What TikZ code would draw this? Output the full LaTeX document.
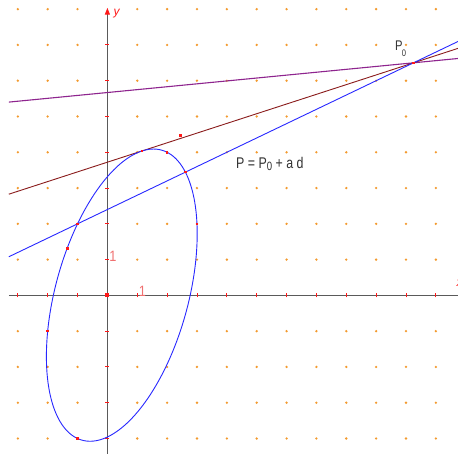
\documentclass[tikz,border=0pt]{standalone}
\usepackage{fontspec}
\setmainfont{Liberation Sans}
\usetikzlibrary{arrows.meta}
\definecolor{gridorange}{HTML}{F39A2E}
\definecolor{axisgray}{HTML}{5A5A5A}
\definecolor{tickred}{HTML}{FF1818}
\definecolor{labelpink}{HTML}{F07070}
\definecolor{linebrown}{HTML}{8A1C1C}
\definecolor{linepurple}{HTML}{8E248E}
\definecolor{curveblue}{HTML}{2828FF}
\definecolor{textgray}{HTML}{333333}
\tikzset{
  axisline/.style={axisgray, line width=1.2pt},
  gridpt/.style={fill=gridorange},
  tickmark/.style={tickred, line width=0.9pt},
  reddot/.style={fill=tickred},
  onelabel/.style={labelpink, inner sep=0pt, font=\fontsize{15}{15}\selectfont},
  axlabel/.style={tickred, inner sep=0pt, font=\fontsize{12}{12}\selectfont\itshape},
  txtlabel/.style={textgray, inner sep=0pt, anchor=base west},
  lineblue/.style={curveblue, line width=0.9pt},
  linebr/.style={linebrown, line width=0.9pt},
  linepu/.style={linepurple, line width=1.1pt},
  ellipsecurve/.style={curveblue, line width=0.9pt}
}
\begin{document}
\begin{tikzpicture}[x=29.86pt, y=35.78pt]
\useasboundingbox (-3.597,-4.4326) rectangle (11.7415,8.2560);
\fill[white] (-3.597,-4.4326) rectangle (11.7415,8.2560);
\clip (-3.597,-4.4326) rectangle (11.7415,8.2560);

% grid dots
\foreach \i in {-3,...,11} {
  \foreach \j in {-4,...,8} {
    \ifnum\i=0 \else \ifnum\j=0 \else
      \fill[gridpt] (\i,\j) circle[radius=1.3pt];
    \fi\fi
  }
}

% named points
\coordinate (O) at (0,0);
\coordinate (P0) at (10.25,6.5);
\coordinate (T) at (1.1595,4.037);
\coordinate (Q1) at (2,4);
\coordinate (Q2) at (2.612,3.445);
\coordinate (Q3) at (3,2);
\coordinate (Q4) at (-1,2);
\coordinate (Q5) at (-1.343,1.316);
\coordinate (Q6) at (-2,-1);
\coordinate (Q7) at (-1,-4);
\coordinate (D) at (2.441,4.463);
\coordinate (XL) at (-3.3,0);
\coordinate (XR) at (11.8,0);
\coordinate (YB) at (0,-4.5);
\coordinate (YT) at (0,8.04);
\coordinate (BL) at (-3.3,1.08);
\coordinate (BR) at (12,7.2);
\coordinate (RL) at (-3.3,2.8288);
\coordinate (RR) at (12,6.974);
\coordinate (UL) at (-3.3,5.4025);
\coordinate (UR) at (12,6.642);

% axes
\draw[axisline] (XL) -- (XR);
\draw[axisline, -{Triangle[length=7pt,width=5pt,color=tickred]}] (YB) -- (YT);

% ticks
\foreach \i in {-3,...,11} { \draw[tickmark] (\i,0) ++(0,-2pt) -- ++(0,4pt); }
\foreach \j in {-4,...,7} { \draw[tickmark] (0,\j) ++(-2pt,0) -- ++(4pt,0); }

% lines
\draw[linepu] (UL) -- (UR);
\draw[linebr] (RL) -- (RR);
\draw[lineblue] (BL) -- (BR);

% ellipse
\draw[ellipsecurve] plot[domain=0:360, samples=200, smooth]
  ({0.482 + 1.4644*cos(\x) - 2.0573*sin(\x)}, {0.007 + 4.0141*cos(\x) + 0.7505*sin(\x)}) -- cycle;

% red points
\foreach \p in {P0,T,Q1,Q2,Q3,Q4,Q5,Q6,Q7,D} { \fill[reddot] (\p) ++(-1.3pt,-1.3pt) rectangle ++(2.6pt,2.6pt); }
\fill[reddot] (O) ++(-2pt,-2pt) rectangle ++(4pt,4pt);

% labels
\node[onelabel] (onex) at (1.175,0.109) {\scalebox{0.85}[1]{1}};
\node[onelabel] (oney) at (0.188,1.101) {\scalebox{0.85}[1]{1}};
\node[axlabel] (ylab) at (0.311,7.884) {y};
\node[axlabel] (xlab) at (11.80,0.347) {x};
\node[txtlabel] (eq) at (4.307,3.533) {\scalebox{0.8}[1]{\fontsize{15.5}{15.5}\selectfont P = P\raisebox{-2pt}{\fontsize{12}{12}\selectfont 0} + a d}};
\node[txtlabel] (p0lab) at (9.632,6.839) {\scalebox{0.8}[1]{\fontsize{14}{14}\selectfont P\kern-1pt\raisebox{-6pt}{\fontsize{9.5}{9.5}\selectfont 0}}};
\end{tikzpicture}
\end{document}
